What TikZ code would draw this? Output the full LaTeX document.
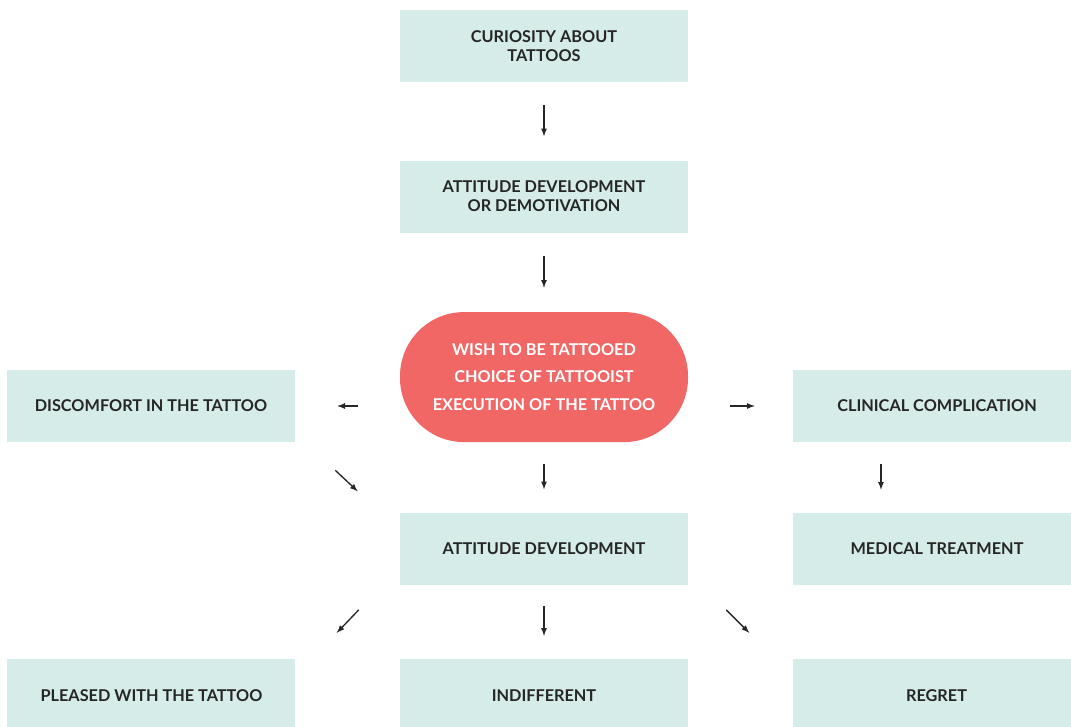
\documentclass[tikz,border=0pt]{standalone}
\usepackage{fontspec}
\setmainfont{Lato}
\usetikzlibrary{positioning}
\definecolor{paleteal}{RGB}{214,236,232}
\definecolor{salmon}{RGB}{240,103,101}
\definecolor{inkgray}{RGB}{38,38,38}

\begin{document}
\begin{tikzpicture}[x=0.75pt, y=-0.75pt,
        stagebox/.style={rectangle, fill=paleteal, minimum width=216pt, minimum height=54pt,
            align=center, text=inkgray, font=\fontsize{12.2}{14.25}\selectfont\bfseries},
        wishpill/.style={rectangle, rounded corners=48pt, fill=salmon, minimum width=216pt,
            minimum height=97.5pt, align=center, text=white,
            font=\fontsize{12.2}{20.6}\selectfont\bfseries},
        arr/.style={->, >=latex, line width=1pt, black!85}]
        \useasboundingbox (0,0) rectangle (1071,726);
        \node[stagebox] (curiosity) at (544,46) {CURIOSITY ABOUT\\TATTOOS};
        \node[stagebox] (demotiv) [below=58.5pt of curiosity] {ATTITUDE DEVELOPMENT\\OR DEMOTIVATION};
        \node[wishpill] (wish) [below=59.25pt of demotiv] {WISH TO BE TATTOOED\\CHOICE OF TATTOOIST\\EXECUTION OF THE TATTOO};
        \node[stagebox] (discomfort) at (151,406) {DISCOMFORT IN THE TATTOO};
        \node[stagebox] (clinical) at (937,406) {CLINICAL COMPLICATION};
        \node[stagebox] (attitude) [below=52.5pt of wish] {ATTITUDE DEVELOPMENT};
        \node[stagebox] (medical) at (937,549) {MEDICAL TREATMENT};
        \node[stagebox] (indifferent) [below=55.5pt of attitude] {INDIFFERENT};
        \node[stagebox] (pleased) [left=78pt of indifferent] {PLEASED WITH THE TATTOO};
        \node[stagebox] (regret) [right=78pt of indifferent] {REGRET};
        \draw[arr, shorten <=17.25pt, shorten >=18pt] (curiosity.south) -- (demotiv.north);
        \draw[arr, shorten <=17.25pt, shorten >=18pt] (demotiv.south) -- (wish.north);
        \draw[arr, shorten <=16.5pt, shorten >=17.25pt] (wish.south) -- (attitude.north);
        \draw[arr, shorten <=31.5pt, shorten >=31.5pt] (wish.west |- discomfort.east) -- (discomfort.east);
        \draw[arr, shorten <=31.5pt, shorten >=28.5pt] (wish.east |- clinical.west) -- (clinical.west);
        \draw[arr, shorten <=16.5pt, shorten >=17.25pt] ([xshift=-42pt]clinical.south) -- ([xshift=-42pt]medical.north);
        \draw[arr] ([xshift=30pt, yshift=-21pt]discomfort.south east) -- ([xshift=-31.5pt, yshift=15.75pt]attitude.north west);
        \draw[arr] ([xshift=-30.75pt, yshift=-18.75pt]attitude.south west) -- ([xshift=30.75pt, yshift=19.5pt]pleased.north east);
        \draw[arr, shorten <=15.75pt, shorten >=17.25pt] (attitude.south) -- (indifferent.north);
        \draw[arr] ([xshift=28.5pt, yshift=-18.75pt]attitude.south east) -- ([xshift=-32.25pt, yshift=19.5pt]regret.north west);
\end{tikzpicture}
\end{document}
